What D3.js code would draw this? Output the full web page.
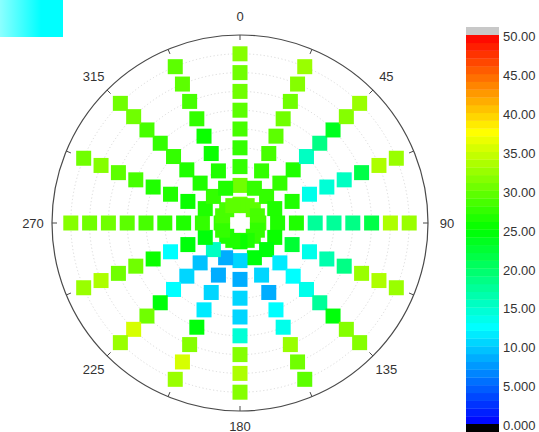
<!DOCTYPE html>
<html>
<head>
<meta charset="utf-8">
<script src="https://cdn.jsdelivr.net/npm/d3@7/dist/d3.min.js"></script>
<style>
  html, body { margin: 0; padding: 0; background: #fff; }
  svg { display: block; }
  text { font-family: "Liberation Sans", Arial, sans-serif; fill: #333; }
</style>
</head>
<body>
<svg id="chart" width="539" height="432"></svg>
<script>
// Compass directions (degrees, clockwise from north) and ring indices
const directions = [0, 22.5, 45, 67.5, 90, 112.5, 135, 157.5, 180, 202.5, 225, 247.5, 270, 292.5, 315, 337.5];
const rings = [1, 2, 3, 4, 5, 6, 7, 8, 9];

// Measured value per direction, ring 1 (inner) to ring 9 (outer)
const dir000 = [30.0, 30.0, 27.5, 27.5, 28.3, 29.2, 30.0, 30.8, 31.7];
const dir022 = [29.5, 27.5, 27.5, 28.0, 29.2, 30.0, 30.8, 31.7, 32.5];
const dir045 = [29.0, 27.0, 27.5, 26.7, 15.0, 18.3, 23.5, 31.7, 32.5];
const dir067 = [28.5, 26.5, 26.5, 13.3, 14.2, 15.0, 21.7, 33.3, 32.5];
const dir090 = [28.0, 26.5, 26.7, 17.5, 17.5, 18.3, 21.0, 33.3, 32.5];
const dir112 = [27.5, 25.5, 22.3, 13.3, 16.5, 18.3, 32.5, 33.3, 32.5];
const dir135 = [27.0, 24.5, 11.7, 12.5, 13.3, 17.5, 24.0, 31.7, 31.7];
const dir157 = [26.0, 24.5, 10.8, 8.6, 12.0, 13.3, 32.5, 30.0, 29.5];
const dir180 = [25.5, 10.0, 8.3, 10.8, 10.8, 14.2, 31.7, 33.8, 31.7];
const dir202 = [26.0, 8.6, 8.3, 10.0, 11.7, 24.0, 31.7, 35.4, 32.5];
const dir225 = [26.5, 15.0, 9.2, 10.0, 12.5, 24.0, 30.0, 35.0, 32.5];
const dir247 = [27.0, 24.5, 24.5, 12.5, 25.3, 30.0, 30.8, 33.3, 32.5];
const dir270 = [27.5, 27.3, 26.7, 27.5, 28.3, 29.2, 30.0, 30.8, 31.7];
const dir292 = [28.0, 26.5, 25.5, 26.7, 26.7, 28.3, 29.2, 31.7, 30.8];
const dir315 = [28.5, 27.0, 26.7, 26.7, 27.5, 27.5, 28.3, 30.0, 30.8];
const dir337 = [29.5, 26.0, 26.7, 25.5, 25.5, 27.5, 28.3, 29.2, 29.2];
const valuesByDirection = [dir000, dir022, dir045, dir067, dir090, dir112, dir135, dir157,
                           dir180, dir202, dir225, dir247, dir270, dir292, dir315, dir337];

// Angular labels and colour-bar ticks
const angleLabels = [0, 45, 90, 135, 180, 225, 270, 315];
const barTicks = [0, 5, 10, 15, 20, 25, 30, 35, 40, 45, 50];

const svg = d3.select("#chart");

// Legend swatch in the top-left corner
const defs = svg.append("defs");
const grad = defs.append("linearGradient").attr("id", "swatch").attr("x1", "0%").attr("x2", "100%");
grad.append("stop").attr("offset", "0%").attr("stop-color", "#8cffff");
grad.append("stop").attr("offset", "65%").attr("stop-color", "#00ffff");
grad.append("stop").attr("offset", "100%").attr("stop-color", "#00ffff");
svg.append("rect").attr("x", 0).attr("y", 0).attr("width", 63).attr("height", 37).attr("fill", "url(#swatch)");

// Banded rainbow colour map, 1 unit per band
const ramp = d3.scaleLinear()
  .domain([0, 12.5, 25, 37.5, 50])
  .range(["#0000ff", "#00ffff", "#00ff00", "#ffff00", "#ff0000"])
  .clamp(true);
const color = v => ramp(Math.floor(v) + 0.5);

// Polar geometry
const cx = 240, cy = 223, R = 188;
const r = d3.scaleLinear().domain([0, 10]).range([0, R]);
const ang = d3.scaleLinear().domain([0, 360]).range([0, 2 * Math.PI]);
const px = (deg, rad) => cx + rad * Math.sin(ang(deg));
const py = (deg, rad) => cy - rad * Math.cos(ang(deg));

const plot = svg.append("g");

// Dotted grid rings
plot.selectAll("circle.grid")
  .data(d3.range(1, 10))
  .join("circle")
  .attr("class", "grid")
  .attr("cx", cx).attr("cy", cy)
  .attr("r", d => r(d))
  .attr("fill", "none")
  .attr("stroke", "#cfcfcf")
  .attr("stroke-width", 0.8)
  .attr("stroke-dasharray", "1.2,2.4");

// Square markers
const pts = [];
directions.forEach((d, i) => {
  rings.forEach((k, j) => pts.push({ dir: d, ring: k, v: valuesByDirection[i][j] }));
});
const S = 15;
plot.selectAll("rect.pt")
  .data(pts)
  .join("rect")
  .attr("class", "pt")
  .attr("x", d => px(d.dir, r(d.ring)) - S / 2)
  .attr("y", d => py(d.dir, r(d.ring)) - S / 2)
  .attr("width", S).attr("height", S)
  .attr("fill", d => color(d.v));

// Outer circle and inward ticks
plot.append("circle")
  .attr("cx", cx).attr("cy", cy).attr("r", R)
  .attr("fill", "none").attr("stroke", "#4a4a4a").attr("stroke-width", 1.2);

plot.selectAll("line.tick")
  .data(directions)
  .join("line")
  .attr("class", "tick")
  .attr("x1", d => px(d, R)).attr("y1", d => py(d, R))
  .attr("x2", d => px(d, R - 5)).attr("y2", d => py(d, R - 5))
  .attr("stroke", "#4a4a4a").attr("stroke-width", 1);

// Angle labels just outside the rim; the bottom one sits a little closer
const labelRadius = d => d === 180 ? R + 15 : R + 19;
plot.selectAll("text.angle")
  .data(angleLabels)
  .join("text")
  .attr("class", "angle")
  .attr("x", d => px(d, labelRadius(d)))
  .attr("y", d => py(d, labelRadius(d)))
  .attr("text-anchor", "middle")
  .attr("dominant-baseline", "central")
  .attr("font-size", 13)
  .text(d => d);

// Colour bar
const by = d3.scaleLinear().domain([0, 50]).range([424, 35]);
const bx = 466, bw = 33;
const bar = svg.append("g");
bar.selectAll("rect.band")
  .data(d3.range(0, 50))
  .join("rect")
  .attr("class", "band")
  .attr("x", bx).attr("width", bw)
  .attr("y", d => by(d + 1))
  .attr("height", d => by(d) - by(d + 1) + 0.3)
  .attr("fill", d => ramp(d + 0.5));
bar.append("rect").attr("x", bx).attr("width", bw)
  .attr("y", by(50) - 8).attr("height", 8).attr("fill", "#c8c8c8");
bar.append("rect").attr("x", bx).attr("width", bw)
  .attr("y", by(0)).attr("height", 8).attr("fill", "#000");

const axis = d3.axisRight(by)
  .tickValues(barTicks)
  .tickSize(0)
  .tickPadding(4)
  .tickFormat(v => v >= 10 ? v.toFixed(2) : v.toFixed(3));
const ax = svg.append("g").attr("transform", `translate(${bx + bw},1.5)`).call(axis);
ax.select(".domain").remove();
ax.selectAll("text")
  .attr("font-size", 13)
  .attr("font-family", "Liberation Sans, Arial, sans-serif")
  .attr("fill", "#333");
</script>
</body>
</html>
